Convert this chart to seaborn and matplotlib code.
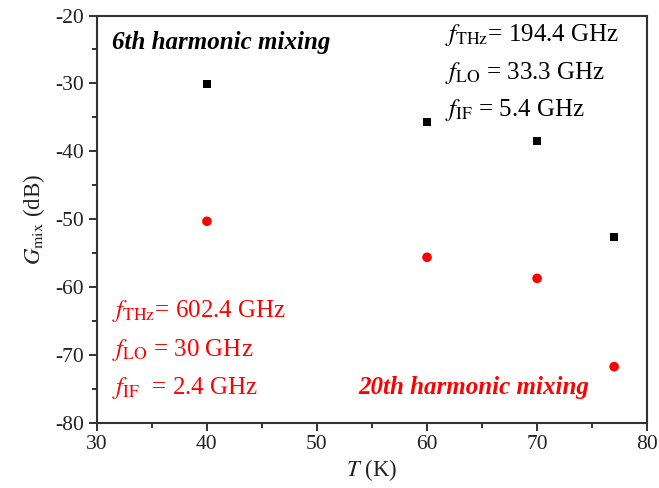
import matplotlib
matplotlib.use("Agg")
import matplotlib.pyplot as plt
import seaborn as sns
import pandas as pd
from matplotlib.ticker import MultipleLocator

# Data
temperature = [40, 60, 70, 77]
gmix_6th = [-30.1, -35.7, -38.5, -52.6]
gmix_20th = [-50.3, -55.6, -58.7, -71.7]

sns.set_theme(style="ticks")
plt.rcParams["font.family"] = ["Liberation Serif", "DejaVu Serif"]
plt.rcParams["mathtext.fontset"] = "stix"
plt.rcParams["axes.unicode_minus"] = False

df6 = pd.DataFrame({"T": temperature, "G": gmix_6th})
df20 = pd.DataFrame({"T": temperature, "G": gmix_20th})

fig = plt.figure(figsize=(6.59, 4.88), dpi=100)
ax = fig.add_axes([0.147, 0.1332, 0.835, 0.835])

sns.scatterplot(data=df6, x="T", y="G", marker="s", s=34, color="black",
                edgecolor="none", ax=ax, zorder=3)
sns.scatterplot(data=df20, x="T", y="G", marker="o", s=48, color="#ff0000",
                edgecolor="none", ax=ax, zorder=3)

ax.set_xlim(30, 80)
ax.set_ylim(-80, -20)
ax.xaxis.set_major_locator(MultipleLocator(10))
ax.xaxis.set_minor_locator(MultipleLocator(5))
ax.yaxis.set_major_locator(MultipleLocator(10))
ax.yaxis.set_minor_locator(MultipleLocator(5))
ax.tick_params(axis="both", which="major", direction="out", length=6, width=1.3,
               labelsize=15.5, colors="#222222", pad=3)
ax.tick_params(axis="both", which="minor", direction="out", length=3.5, width=1.3,
               colors="#222222")
ax.tick_params(top=False, right=False, which="both")
for sp in ax.spines.values():
    sp.set_visible(True)
    sp.set_linewidth(1.5)
    sp.set_color("#333333")

ax.set_xlabel(r"$T$ (K)", fontsize=16.5, color="#222222", labelpad=2)
ax.set_ylabel(r"$G_{\rm mix}$ (dB)", fontsize=16.5, color="#222222", labelpad=6)

# Annotations
ax.text(0.027, 0.935, "6th harmonic mixing", transform=ax.transAxes,
        fontsize=18, fontweight="bold", fontstyle="italic", color="black",
        va="center", ha="left")
ax.text(0.684, 0.088, "20th harmonic mixing", transform=ax.transAxes,
        fontsize=18, fontweight="bold", fontstyle="italic", color="#ff0000",
        va="center", ha="center")

black_lines = [r"$f_{\rm THz}$= 194.4 GHz", r"$f_{\rm LO}$ = 33.3 GHz", r"$f_{\rm IF}$ = 5.4 GHz"]
black_y = [-22.8, -28.4, -33.9]
for s, y in zip(black_lines, black_y):
    ax.text(61.6, y, s, fontsize=18, color="black", va="center", ha="left")

red_lines = [r"$f_{\rm THz}$= 602.4 GHz", r"$f_{\rm LO}$ = 30 GHz", r"$f_{\rm IF}$  = 2.4 GHz"]
red_y = [-63.5, -69.3, -74.8]
for s, y in zip(red_lines, red_y):
    ax.text(31.4, y, s, fontsize=18, color="#ff0000", va="center", ha="left")

fig.savefig("out.png", dpi=100)
